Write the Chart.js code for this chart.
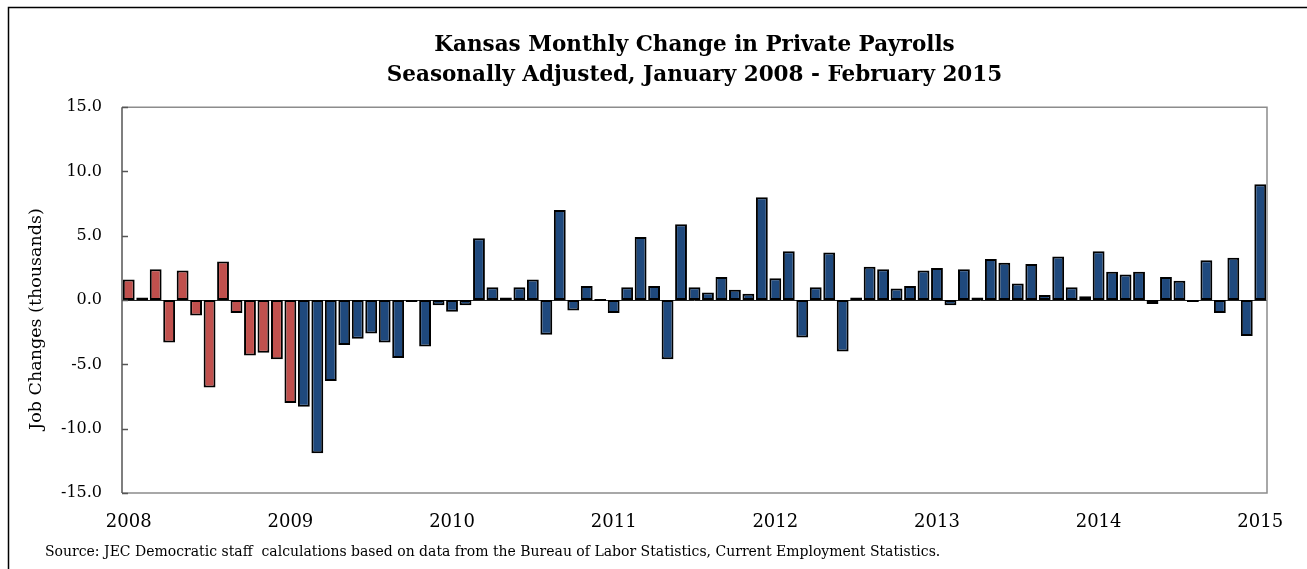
<!DOCTYPE html>
<html>
<head>
<meta charset="utf-8">
<script src="https://cdn.jsdelivr.net/npm/chart.js@4.4.1/dist/chart.umd.min.js"></script>
<style>
  html, body { margin: 0; padding: 0; background: #fff; }
  #wrap { width: 1307px; height: 569px; position: relative; }
</style>
</head>
<body>
<div id="wrap"><canvas id="myChart" width="1307" height="569"></canvas></div>
<script>
// --- dados ---
var years = ['2008', '2009', '2010', '2011', '2012', '2013', '2014', '2015'];
var monthNames = ['Jan', 'Feb', 'Mar', 'Apr', 'May', 'Jun', 'Jul', 'Aug', 'Sep', 'Oct', 'Nov', 'Dec'];

var values2008 = [1.6, 0.2, 2.4, -3.3, 2.3, -1.2, -6.8, 3.0, -1.0, -4.3, -4.1, -4.6];
var values2009 = [-8.0, -8.3, -11.9, -6.3, -3.5, -3.0, -2.6, -3.3, -4.5, -0.1, -3.6, -0.4];
var values2010 = [-0.9, -0.4, 4.8, 1.0, 0.2, 1.0, 1.6, -2.7, 7.0, -0.8, 1.1, 0.0];
var values2011 = [-1.0, 1.0, 4.9, 1.1, -4.6, 5.9, 1.0, 0.6, 1.8, 0.8, 0.5, 8.0];
var values2012 = [1.7, 3.8, -2.9, 1.0, 3.7, -4.0, 0.2, 2.6, 2.4, 0.9, 1.1, 2.3];
var values2013 = [2.5, -0.4, 2.4, 0.2, 3.2, 2.9, 1.3, 2.8, 0.4, 3.4, 1.0, 0.3];
var values2014 = [3.8, 2.2, 2.0, 2.2, -0.3, 1.8, 1.5, -0.1, 3.1, -1.0, 3.3, -2.8];
var values2015 = [9.0];

// primeiros 13 meses (jan/2008 - jan/2009) em vermelho
var redMonths = 13;

var yTicks = [-15, -10, -5, 0, 5, 10, 15];

var titleLines = ['Kansas Monthly Change in Private Payrolls', 'Seasonally Adjusted, January 2008 - February 2015'];
var yTitle = 'Job Changes (thousands)';
var sourceNote = 'Source: JEC Democratic staff  calculations based on data from the Bureau of Labor Statistics, Current Employment Statistics.';

// --- monta categorias e série ---
var allValues = [].concat(values2008, values2009, values2010, values2011, values2012, values2013, values2014, values2015);
var labels = [];
allValues.forEach(function(v, i) {
  labels.push(monthNames[i % 12] + ' ' + years[Math.floor(i / 12)]);
});
var colors = allValues.map(function(v, i) { return i < redMonths ? '#C0504D' : '#1F497D'; });

var FONT = "'DejaVu Serif', 'Liberation Serif', serif";

// moldura, borda do gráfico, ticks internos, título do eixo y e nota de fonte
var decor = {
  id: 'decor',
  beforeDatasetsDraw: function(chart) {
    var c = chart.ctx, a = chart.chartArea, y = chart.scales.y;
    c.save();
    c.strokeStyle = '#222';
    c.lineWidth = 1;
    var z = Math.round(y.getPixelForValue(0)) + 0.5;
    c.beginPath(); c.moveTo(a.left, z); c.lineTo(a.right, z); c.stroke();
    c.restore();
  },
  afterDraw: function(chart) {
    var c = chart.ctx, a = chart.chartArea, y = chart.scales.y;
    c.save();
    // caixa do gráfico
    c.strokeStyle = '#8c8c8c';
    c.lineWidth = 1.5;
    c.beginPath();
    c.moveTo(a.left, a.top); c.lineTo(a.right, a.top); c.lineTo(a.right, a.bottom); c.lineTo(a.left, a.bottom);
    c.stroke();
    c.strokeStyle = '#555';
    c.beginPath(); c.moveTo(a.left, a.top); c.lineTo(a.left, a.bottom); c.stroke();
    // ticks para dentro
    yTicks.forEach(function(t) {
      var p = Math.round(y.getPixelForValue(t)) + 0.5;
      c.beginPath(); c.moveTo(a.left, p); c.lineTo(a.left + 6, p); c.stroke();
    });
    // moldura externa
    c.strokeStyle = '#000';
    c.lineWidth = 1.5;
    c.beginPath(); c.moveTo(8.5, 569); c.lineTo(8.5, 7.5); c.lineTo(1307, 7.5); c.stroke();
    c.fillStyle = '#000';
    // título do eixo y
    c.save();
    c.translate(36, 319);
    c.rotate(-Math.PI / 2);
    c.font = "17.5px " + FONT;
    c.textAlign = 'center';
    c.textBaseline = 'middle';
    c.fillText(yTitle, 0, 0);
    c.restore();
    // fonte
    c.font = "14px " + FONT;
    c.textBaseline = 'middle';
    c.textAlign = 'left';
    c.fillText(sourceNote, 45, 552);
    c.restore();
  }
};

var ctx = document.getElementById('myChart').getContext('2d');
var chart = new Chart(ctx, {
  type: 'bar',
  data: {
    labels: labels,
    datasets: [{
      data: allValues,
      backgroundColor: colors,
      borderColor: '#000',
      borderWidth: 2,
      borderSkipped: false,
      minBarLength: 2,
      categoryPercentage: 1.0,
      barPercentage: 0.88
    }]
  },
  options: {
    responsive: false,
    animation: false,
    devicePixelRatio: 1,
    layout: { padding: { left: 0, right: 40, top: 0, bottom: 0 } },
    plugins: {
      legend: { display: false },
      tooltip: { enabled: false },
      title: {
        display: true,
        text: titleLines,
        fullSize: false,
        color: '#000',
        font: { family: FONT, size: 21.5, weight: 'bold', lineHeight: 1.4 },
        padding: { top: 30, bottom: 17 }
      }
    },
    scales: {
      x: {
        grid: { display: false, drawTicks: false },
        border: { display: false },
        ticks: {
          autoSkip: false,
          maxRotation: 0,
          minRotation: 0,
          padding: 19,
          color: '#000',
          font: { family: FONT, size: 18 },
          callback: function(v, i) { return i % 12 === 0 ? years[i / 12] : ''; }
        },
        afterFit: function(s) { s.height = 76; }
      },
      y: {
        min: -15,
        max: 15,
        grid: { display: false, drawTicks: false },
        border: { display: false },
        ticks: {
          stepSize: 5,
          padding: 20,
          color: '#000',
          font: { family: FONT, size: 16 },
          callback: function(v) { return v.toFixed(1); }
        },
        afterFit: function(s) { s.width = 122; }
      }
    }
  },
  plugins: [decor]
});
</script>
</body>
</html>
